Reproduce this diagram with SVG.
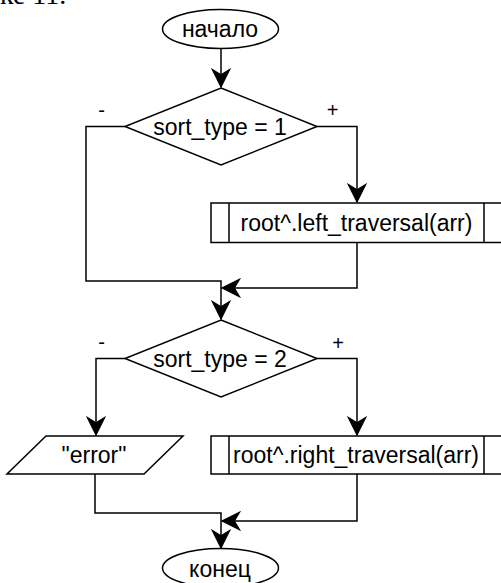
<svg xmlns="http://www.w3.org/2000/svg" width="501" height="583" viewBox="0 0 501 583">
<defs>
<style>
.s{fill:#fff;stroke:#000;stroke-width:1.5}
.c{fill:none;stroke:#000;stroke-width:1.5}
.t{font-family:"Liberation Sans",Arial,sans-serif;font-size:23px;fill:#000;text-anchor:middle}
.l{font-family:"Liberation Sans",Arial,sans-serif;font-size:20px;fill:#000;text-anchor:middle}
</style>
<marker id="a" markerUnits="userSpaceOnUse" markerWidth="20" markerHeight="20" viewBox="-16 -8 17 16" refX="0" refY="0" orient="auto">
<path d="M0,0 L-15,-7.5 L-10.5,0 L-15,7.5 Z" fill="#000" stroke="#000" stroke-width="1"/>
</marker>
</defs>
<rect width="501" height="583" fill="#fff"/>
<text x="0" y="4" font-family="'Liberation Serif',serif" font-size="28">ке 11.</text>
<g id="connectors">
<path class="c" d="M221,49 V87" marker-end="url(#a)"/>
<path class="c" d="M125,126.5 H86 V281 H221 V319" marker-end="url(#a)"/>
<path class="c" d="M317,126.5 H357 V202" marker-end="url(#a)"/>
<path class="c" d="M357,242 V288 H222" marker-end="url(#a)"/>
<path class="c" d="M125,358.5 H96 V435" marker-end="url(#a)"/>
<path class="c" d="M317,358.5 H357 V435" marker-end="url(#a)"/>
<path class="c" d="M95,474 V513 H221 V548" marker-end="url(#a)"/>
<path class="c" d="M357,474 V521 H222" marker-end="url(#a)"/>
</g>
<g id="start">
<ellipse class="s" cx="220.5" cy="29" rx="58" ry="19.5"/>
<text class="t" x="220" y="37">начало</text>
</g>
<g id="cond1">
<polygon class="s" points="221,88 317,126.5 221,165 125,126.5"/>
<text class="t" x="220" y="134.5">sort_type = 1</text>
<text class="l" x="101.5" y="116.5">-</text>
<text class="l" x="332.5" y="116.5">+</text>
</g>
<g id="proc1">
<rect class="s" x="211" y="203" width="291" height="39.5"/>
<path class="c" d="M229,203 V242.5 M484,203 V242.5"/>
<text class="t" x="356.5" y="230.5">root^.left_traversal(arr)</text>
</g>
<g id="cond2">
<polygon class="s" points="221,320 317,358.5 221,397 125,358.5"/>
<text class="t" x="220" y="366.5">sort_type = 2</text>
<text class="l" x="101.5" y="349">-</text>
<text class="l" x="338" y="350">+</text>
</g>
<g id="error">
<polygon class="s" points="46,436 183,436 144,474 7,474"/>
<text class="t" x="94" y="463">"error"</text>
</g>
<g id="proc2">
<rect class="s" x="211" y="436" width="291" height="38"/>
<path class="c" d="M229,436 V474 M484,436 V474"/>
<text class="t" x="356" y="463">root^.right_traversal(arr)</text>
</g>
<g id="end">
<ellipse class="s" cx="220.5" cy="568" rx="58" ry="19.5"/>
<text class="t" x="220" y="577">конец</text>
</g>
</svg>
